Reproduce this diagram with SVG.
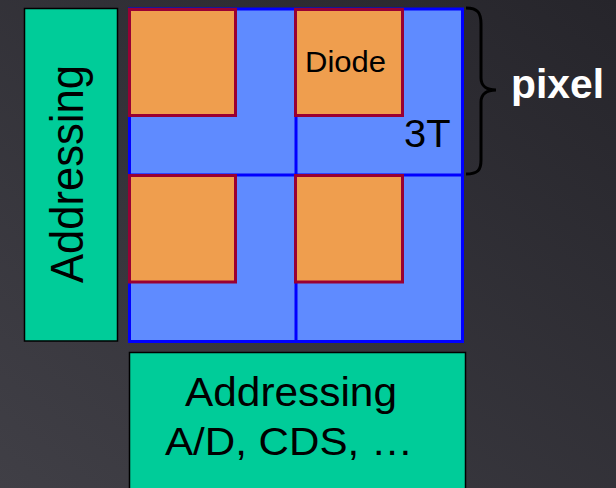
<svg xmlns="http://www.w3.org/2000/svg" width="616" height="488" viewBox="0 0 616 488">
  <defs>
    <linearGradient id="bg" x1="1" y1="0" x2="0" y2="1">
      <stop offset="0" stop-color="#26252b"/>
      <stop offset="1" stop-color="#403f46"/>
    </linearGradient>
  </defs>
  <style>
    .green { fill: #00CC99; stroke: #000; stroke-width: 1.5; }
    .array { fill: #5F8BFF; stroke: #0000FF; stroke-width: 3; }
    .grid { stroke: #0000FF; stroke-width: 3; fill: none; }
    .diode { fill: #EF9E4E; stroke: #990033; stroke-width: 3; }
    .t { font-family: "Liberation Sans", Arial, sans-serif; fill: #000; }
    .brace { fill: none; stroke: #000; stroke-width: 3; }
  </style>
  <rect width="616" height="488" fill="url(#bg)"/>

  <g id="addressing-left">
    <rect class="green" x="24.5" y="8.5" width="93" height="332.5"/>
    <text class="t" transform="translate(83,174) rotate(-90)" x="0" y="0" text-anchor="middle" font-size="47" textLength="218" lengthAdjust="spacingAndGlyphs">Addressing</text>
  </g>

  <g id="pixel-array">
    <rect class="array" x="129.5" y="9" width="333" height="332.5"/>
    <line class="grid" x1="296" y1="9" x2="296" y2="341.5"/>
    <line class="grid" x1="129.5" y1="175" x2="462.5" y2="175"/>
  </g>

  <g id="diode-tl">
    <rect class="diode" x="129.5" y="9.5" width="106" height="106"/>
  </g>
  <g id="diode-tr">
    <rect class="diode" x="295.5" y="9.5" width="107" height="106"/>
    <text class="t" x="305" y="72" font-size="29.5" textLength="81" lengthAdjust="spacingAndGlyphs">Diode</text>
  </g>
  <g id="diode-bl">
    <rect class="diode" x="129.5" y="175.5" width="106" height="106.5"/>
  </g>
  <g id="diode-br">
    <rect class="diode" x="295.5" y="175.5" width="107" height="106.5"/>
  </g>

  <g id="label-3T">
    <text class="t" x="404" y="147" font-size="38.5" textLength="46.5" lengthAdjust="spacingAndGlyphs">3T</text>
  </g>

  <g id="connectors">
    <path class="brace" d="M466,8 C478,8 481,13 481,24 L481,78 C481,86 487,90 496,90 C487,90 481,94 481,102 L481,160 C481,170 478,174 466,174"/>
  </g>

  <g id="pixel-label">
    <text x="511" y="98" font-family="Liberation Sans, Arial, sans-serif" font-weight="bold" font-size="41" fill="#fff" textLength="93" lengthAdjust="spacingAndGlyphs">pixel</text>
  </g>

  <g id="addressing-bottom">
    <rect class="green" x="129.5" y="352.5" width="336" height="140"/>
    <text class="t" x="291" y="406" text-anchor="middle" font-size="40.5" textLength="212" lengthAdjust="spacingAndGlyphs">Addressing</text>
    <text class="t" x="289" y="455" text-anchor="middle" font-size="39.5" textLength="248" lengthAdjust="spacingAndGlyphs">A/D, CDS, …</text>
  </g>
</svg>
